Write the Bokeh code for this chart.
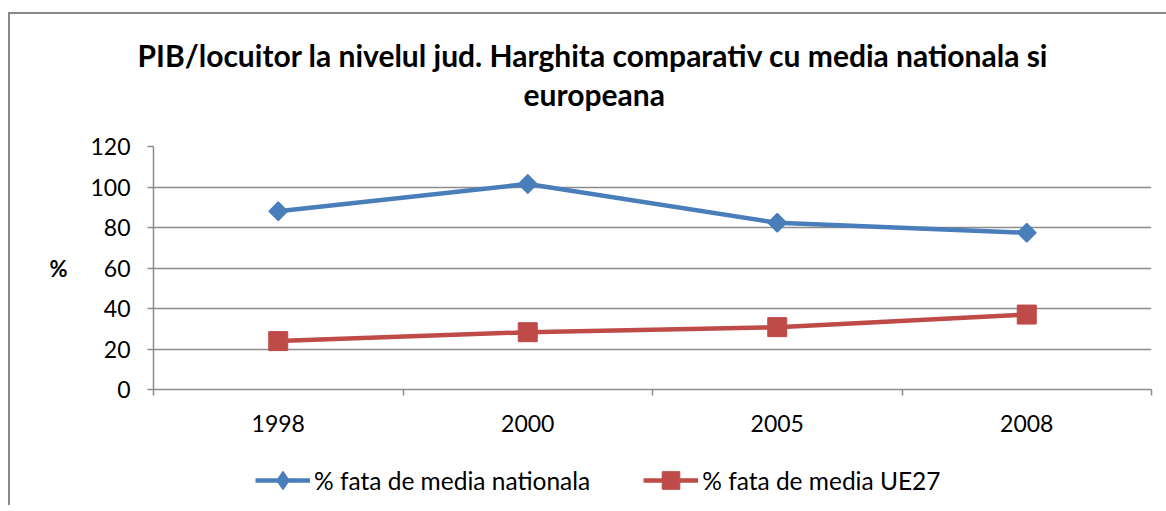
import math
from bokeh.plotting import figure
from bokeh.layouts import column
from bokeh.models import (Range1d, FixedTicker, Legend, LegendItem, Title)
from bokeh.embed import file_html
from bokeh.resources import INLINE

years = ["1998", "2000", "2005", "2008"]
national = [88, 101.5, 82.3, 77.4]
ue27 = [23.9, 28.3, 30.8, 37.0]
y_ticks = [0, 20, 40, 60, 80, 100, 120]
series_names = ["% fata de media nationala", "% fata de media UE27"]
title_lines = ["PIB/locuitor la nivelul jud. Harghita comparativ cu media nationala si",
               "europeana"]

FONT = "Lato"
BLUE = "#4a7ebb"
RED = "#be4b48"
GRID = "#8c8c8c"

# page offsets caused by the chart border (CSS margin + border)
OX, OY = 10, 14
W = 1156
xs = list(range(len(years)))

p = figure(width=W, height=431, output_backend="svg", toolbar_location=None,
           x_range=Range1d(-0.5, len(years) - 0.5), y_range=Range1d(0, 120),
           min_border_left=153 - OX, min_border_right=W - (1151 - OX), min_border_top=146 - OY,
           min_border_bottom=56, title=None)
p.outline_line_color = None
p.background_fill_color = "white"
p.border_fill_color = "white"

spacer = Title(text=" ", text_font=FONT, text_font_size="10px", standoff=19)
t2 = Title(text=title_lines[1], align="left", offset=523 - 153, text_font=FONT,
           text_font_size="30px", text_font_style="bold", text_color="black", standoff=3)
t1 = Title(text=title_lines[0], align="left", offset=137 - 153, text_font=FONT,
           text_font_size="30px", text_font_style="bold", text_color="black", standoff=0)
p.add_layout(spacer, "above")
p.add_layout(t2, "above")
p.add_layout(t1, "above")

# axes
xa = p.xaxis[0]
xa.ticker = FixedTicker(ticks=xs, minor_ticks=[i - 0.5 for i in range(len(years) + 1)])
xa.major_label_overrides = {i: y for i, y in enumerate(years)}
xa.major_tick_line_color = None
xa.minor_tick_line_color = GRID
xa.minor_tick_in = 0
xa.minor_tick_out = 6
xa.minor_tick_line_width = 1.5
xa.axis_line_color = GRID
xa.axis_line_width = 1.5
xa.major_label_text_font = FONT
xa.major_label_text_font_size = "23px"
xa.major_label_text_color = "black"
xa.major_label_standoff = 19

ya = p.yaxis[0]
ya.ticker = FixedTicker(ticks=y_ticks)
ya.minor_tick_line_color = None
ya.major_tick_line_color = GRID
ya.major_tick_in = 0
ya.major_tick_out = 6
ya.major_tick_line_width = 1.5
ya.axis_line_color = GRID
ya.axis_line_width = 1.5
ya.major_label_text_font = FONT
ya.major_label_text_font_size = "23px"
ya.major_label_text_color = "black"
ya.major_label_standoff = 17
ya.axis_label = "%"
ya.axis_label_text_font = FONT
ya.axis_label_text_font_size = "22px"
ya.axis_label_text_font_style = "bold"
ya.axis_label_text_color = "black"
ya.axis_label_orientation = "horizontal"
ya.axis_label_standoff = 20

p.xgrid.grid_line_color = None
p.ygrid.grid_line_color = GRID
p.ygrid.grid_line_width = 1.5

def draw(fig, x, y, blue_marker="square", blue_size=13, blue_angle=math.pi / 4):
    l1 = fig.line(x, y[0], line_color=BLUE, line_width=4.5)
    s1 = fig.scatter(x, y[0], marker=blue_marker, size=blue_size, angle=blue_angle,
                     fill_color=BLUE, line_color=BLUE, line_width=1.5)
    l2 = fig.line(x, y[1], line_color=RED, line_width=4.5)
    s2 = fig.scatter(x, y[1], marker="square", size=19, fill_color=RED, line_color=RED)
    return [l1, s1], [l2, s2]

draw(p, xs, [national, ue27])

# legend strip: same series drawn outside its visible range, only the legend shows
q = figure(width=W, height=60, output_backend="svg", toolbar_location=None,
           x_range=Range1d(-100, -99), y_range=Range1d(-100, -99),
           x_axis_location=None, y_axis_location=None,
           min_border_left=0, min_border_right=0, min_border_top=0, min_border_bottom=0)
q.outline_line_color = None
q.xgrid.grid_line_color = None
q.ygrid.grid_line_color = None
r1, r2 = draw(q, xs, [national, ue27], blue_marker="diamond", blue_size=19, blue_angle=0)

legend = Legend(items=[LegendItem(label=series_names[0], renderers=r1),
                       LegendItem(label=series_names[1], renderers=r2)],
                orientation="horizontal", location=(255 - 153, 3),
                glyph_width=55, glyph_height=44, label_standoff=4, spacing=53,
                padding=0, margin=0, border_line_color=None,
                label_text_font=FONT, label_text_font_size="24.5px", label_text_color="black",
                background_fill_alpha=0)
q.add_layout(legend)

layout = column(p, q, spacing=0,
                styles={"margin-left": "8px", "margin-top": "12px",
                        "border-left": "2px solid #888888", "border-top": "2px solid #888888"})
open("out.html", "w").write(file_html(layout, INLINE))
